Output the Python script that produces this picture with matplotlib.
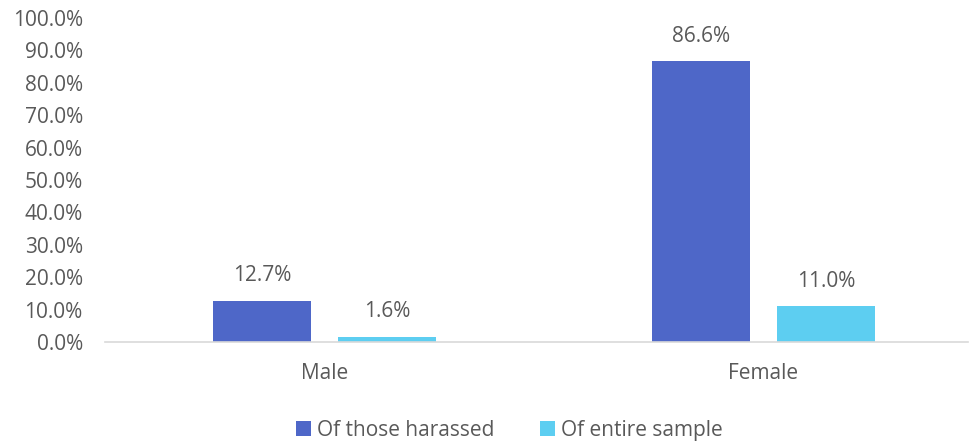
import matplotlib.pyplot as plt
import numpy as np

categories = ["Male", "Female"]
series_names = ["Of those harassed", "Of entire sample"]
harassed = [12.7, 86.6]
entire = [1.6, 11.0]
colors = ["#4E67C8", "#5DCEF1"]
text_color = "#595959"

plt.rcParams['font.family'] = ['Open Sans', 'DejaVu Sans']

fig = plt.figure(figsize=(9.72, 4.45), dpi=100)
ax = fig.add_axes([0.108, 0.2315, 0.888, 0.7281])

x = np.arange(len(categories))
w = 0.223
off = 0.142
b1 = ax.bar(x - off, harassed, w, color=colors[0], label=series_names[0])
b2 = ax.bar(x + off, entire, w, color=colors[1], label=series_names[1])

for bars, vals in [(b1, harassed), (b2, entire)]:
    for r, v in zip(bars, vals):
        ax.text(r.get_x() + r.get_width() / 2, v + 4.5, f"{v:.1f}%",
                ha="center", va="bottom", fontsize=15, color=text_color)

ax.set_xlim(-0.5, 1.466)
ax.set_ylim(0, 100)
ax.set_yticks(np.arange(0, 101, 10))
ax.set_yticklabels([f"{t:.1f}%" for t in range(0, 101, 10)])
ax.set_xticks(x)
ax.set_xticklabels(categories)
ax.tick_params(axis="both", length=0, labelsize=15, colors=text_color)
ax.tick_params(axis="x", pad=15)
ax.tick_params(axis="y", pad=16)
for s in ["top", "right", "left"]:
    ax.spines[s].set_visible(False)
ax.spines["bottom"].set_color("#D9D9D9")
ax.spines["bottom"].set_linewidth(1.2)

leg = fig.legend(loc="center", bbox_to_anchor=(0.524, 0.033), ncol=2, frameon=False,
                 fontsize=15, handlelength=0.7, handleheight=0.7, handletextpad=0.3,
                 columnspacing=2.2)
for t in leg.get_texts():
    t.set_color(text_color)

fig.savefig("out.png", dpi=100)
